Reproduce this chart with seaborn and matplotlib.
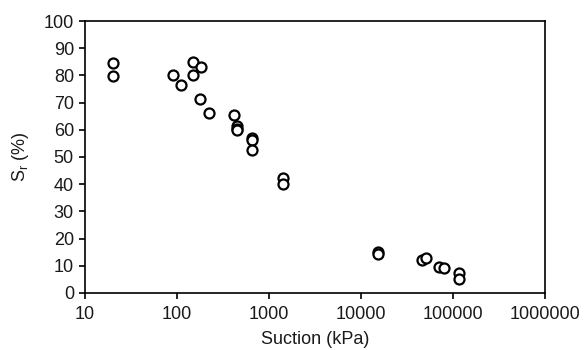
import matplotlib
matplotlib.use("Agg")
import matplotlib.pyplot as plt
import seaborn as sns
import pandas as pd

# suction (kPa) and degree of saturation (%)
suction = [20, 20, 90, 110, 148, 150, 182, 180, 221,
           415, 445, 445, 445, 655, 655, 655, 1430, 1430,
           15300, 15300, 45600, 50500, 70500, 80000, 117000, 117000]
sr = [84.7, 79.9, 80.0, 76.6, 84.8, 80.3, 83.0, 71.2, 66.3,
      65.3, 61.3, 60.3, 60.0, 57.1, 56.4, 52.4, 42.3, 40.0,
      15.0, 14.3, 12.0, 13.0, 9.4, 9.1, 7.5, 5.0]

xticks = [10, 100, 1000, 10000, 100000, 1000000]
xticklabels = ["10", "100", "1000", "10000", "100000", "1000000"]
yticks = [0, 10, 20, 30, 40, 50, 60, 70, 80, 90, 100]

df = pd.DataFrame({"suction": suction, "sr": sr})

sns.set_style("ticks")
plt.rcParams["font.family"] = ["Liberation Sans", "DejaVu Sans"]
plt.rcParams["mathtext.fontset"] = "custom"
plt.rcParams["mathtext.rm"] = "Liberation Sans"

fig = plt.figure(figsize=(5.87, 3.5), dpi=100)
ax = fig.add_axes([0.1448, 0.163, 0.7837, 0.777])

sns.scatterplot(data=df, x="suction", y="sr", ax=ax, marker="o", s=52,
                facecolor="white", edgecolor="black", linewidth=1.6, zorder=3)

ax.set_xscale("log")
ax.set_xlim(10, 1000000)
ax.set_ylim(0, 100)
ax.set_xticks(xticks)
ax.set_xticklabels(xticklabels)
ax.set_yticks(yticks)
ax.minorticks_off()

for side in ["left", "right", "top", "bottom"]:
    ax.spines[side].set_visible(True)
    ax.spines[side].set_color("black")
    ax.spines[side].set_linewidth(1.2)
ax.tick_params(axis="both", direction="out", length=4.5, width=1.2,
               color="black", labelsize=13, labelcolor="#1a1a1a")
ax.tick_params(axis="x", pad=5)

ax.set_xlabel("Suction (kPa)", fontsize=13, color="#1a1a1a", labelpad=6)
ax.set_ylabel(r"S$_\mathrm{r}$ (%)", fontsize=13, color="#1a1a1a", labelpad=9)

fig.savefig("out.png", dpi=100)
